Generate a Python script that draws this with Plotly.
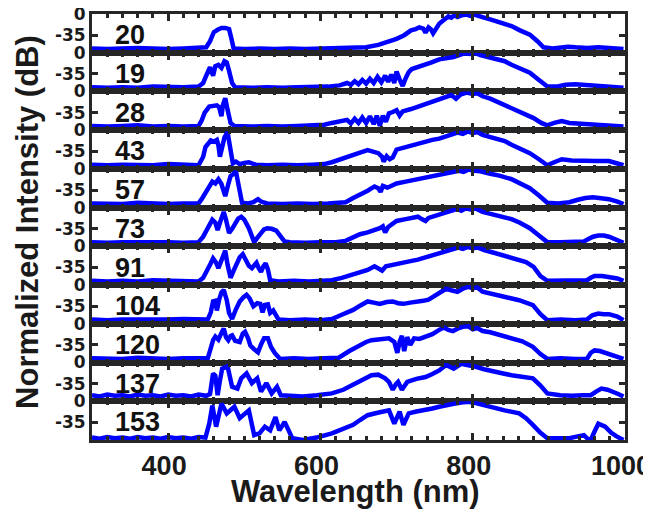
import plotly.graph_objects as go

labels = ["20", "19", "28", "43", "57", "73", "91", "104", "120", "137", "153"]

wl_20 = [300,320,340,360,380,400,420,440,450,455,460,465,470,475,480,483,486,500,520,540,560,580,600,620,640,660,676,690,700,710,719,725,730,735,738,742,745,748,752,756,762,768,772,776,780,786,792,797,802,808,815,823,832,842,851,862,875,885,893,905,915,925,935,950,965,980,998]
db_20 = [-57,-58,-57,-56,-57,-58,-57,-56,-55,-45,-30,-26,-23,-23,-25,-40,-57,-58,-57,-58,-57,-58,-57,-57,-56,-55,-51,-46,-41,-35,-27,-25,-22,-24,-31,-22,-25,-32,-22,-16,-10,-4,-6,-2,-5,-2,-1,-3,-1,-4,-6,-9,-12,-16,-20,-27,-34,-45,-55,-57,-56,-54,-55,-56,-55,-57,-58]

wl_19 = [300,320,340,360,380,400,420,440,446,450,455,459,462,466,470,474,477,480,484,488,510,530,550,570,590,610,625,635,640,645,650,655,660,665,670,675,680,685,689,693,697,700,704,708,712,716,720,728,738,746,756,766,775,784,790,796,802,810,820,832,842,851,862,875,887,898,910,922,935,950,965,980,998]
db_19 = [-57,-58,-57,-58,-56,-57,-57,-56,-50,-38,-24,-38,-22,-20,-25,-14,-16,-30,-50,-57,-58,-57,-58,-57,-57,-56,-54,-50,-53,-47,-52,-45,-51,-43,-50,-40,-49,-38,-48,-36,-50,-31,-44,-55,-42,-32,-27,-23,-20,-16,-11,-9,-7,-3,-1,-2,0,-4,-7,-11,-14,-20,-26,-33,-45,-56,-56,-53,-52,-53,-54,-55,-58]

wl_28 = [300,320,340,360,380,400,420,440,444,448,454,460,464,467,470,472,475,478,482,487,510,530,550,570,590,605,615,625,635,640,645,650,655,660,665,670,674,678,682,686,690,695,700,704,708,719,728,738,747,756,765,772,778,784,792,800,806,813,823,832,842,851,862,870,880,890,898,907,917,927,940,955,970,985,998]
db_28 = [-57,-58,-57,-56,-58,-57,-58,-57,-48,-35,-25,-24,-23,-26,-41,-22,-11,-30,-52,-57,-58,-57,-58,-57,-56,-55,-52,-50,-47,-53,-45,-52,-43,-52,-41,-54,-40,-57,-40,-50,-36,-34,-31,-40,-33,-29,-25,-21,-17,-13,-9,-6,-12,-5,-2,-4,-3,-8,-12,-17,-22,-27,-33,-37,-44,-52,-56,-52,-49,-52,-53,-55,-55,-57,-58]

wl_43 = [300,320,340,360,380,400,420,440,446,449,456,460,464,466,468,471,474,478,481,485,489,494,500,506,515,530,550,570,590,605,615,628,643,652,662,670,676,681,683,687,691,695,700,712,728,738,747,756,765,772,780,787,794,800,806,813,823,832,842,851,862,875,887,898,907,917,930,946,962,979,990,998]
db_43 = [-57,-58,-57,-57,-58,-56,-57,-58,-44,-28,-17,-19,-16,-25,-44,-30,-12,-3,-25,-55,-52,-56,-54,-53,-57,-58,-57,-58,-57,-56,-53,-48,-41,-37,-33,-35,-38,-44,-52,-43,-48,-45,-32,-28,-22,-19,-16,-14,-10,-7,-4,-6,-2,-5,-3,-8,-11,-14,-18,-24,-31,-38,-48,-58,-53,-48,-50,-51,-51,-51,-54,-58]

wl_57 = [300,320,340,360,380,400,420,440,444,449,455,458,462,466,470,475,479,482,486,489,493,497,505,512,518,522,530,550,570,590,610,625,633,643,652,662,671,676,679,682,688,694,700,712,728,738,747,756,765,775,782,788,795,802,810,823,835,851,862,875,887,898,912,927,938,948,958,968,979,990,998]
db_57 = [-57,-57,-58,-56,-57,-58,-57,-57,-50,-40,-27,-21,-24,-17,-25,-45,-25,-12,-8,-4,-30,-56,-57,-55,-50,-54,-57,-58,-57,-58,-57,-56,-55,-48,-43,-36,-29,-32,-38,-28,-31,-27,-24,-21,-17,-14,-11,-9,-6,-4,-3,-5,-1,-3,-4,-8,-11,-17,-23,-32,-44,-56,-57,-55,-51,-48,-47,-48,-50,-54,-58]

wl_73 = [300,320,340,360,380,400,420,440,446,452,455,458,462,465,468,473,476,480,484,488,492,496,500,506,510,513,517,521,526,530,536,542,548,553,560,580,600,620,633,643,652,662,671,678,682,685,689,695,700,712,722,728,733,738,742,756,765,775,780,785,791,797,803,813,823,838,851,862,875,887,898,915,935,946,952,958,965,972,979,988,998]
db_73 = [-57,-58,-57,-57,-56,-57,-58,-57,-48,-35,-30,-20,-25,-37,-25,-7,-20,-42,-35,-26,-18,-15,-20,-34,-48,-57,-50,-43,-36,-34,-35,-38,-48,-56,-57,-58,-57,-57,-55,-50,-44,-41,-38,-34,-31,-41,-32,-26,-22,-19,-16,-15,-19,-22,-17,-11,-7,-4,-2,-5,-1,-3,-1,-7,-10,-14,-19,-25,-34,-46,-57,-57,-57,-56,-52,-48,-46,-46,-48,-52,-58]

wl_91 = [300,320,340,360,380,400,420,440,446,452,456,459,463,466,470,475,478,482,486,490,494,498,502,506,510,513,516,519,522,525,528,531,534,545,565,585,600,615,628,643,652,662,671,676,681,686,692,700,712,728,742,756,766,775,781,787,794,800,807,815,826,842,856,870,880,889,898,915,935,950,955,960,970,979,990,998]
db_91 = [-57,-58,-57,-58,-56,-57,-57,-58,-52,-35,-28,-20,-27,-36,-22,-7,-30,-52,-40,-28,-18,-13,-22,-32,-36,-30,-27,-36,-42,-33,-28,-38,-56,-58,-57,-58,-57,-56,-52,-46,-42,-39,-33,-37,-40,-33,-31,-30,-26,-22,-17,-12,-9,-6,-2,-4,-1,-3,-2,-6,-10,-14,-19,-26,-34,-49,-57,-57,-57,-56,-52,-49,-49,-50,-53,-57]

wl_104 = [300,320,340,360,380,400,420,440,452,456,459,462,464,467,470,473,477,480,484,489,494,499,503,507,512,517,521,524,527,531,534,538,545,560,580,600,615,628,643,652,662,670,678,687,695,702,709,718,728,735,742,749,756,765,773,780,787,794,800,806,813,823,832,845,861,879,889,898,915,935,950,957,965,972,979,990,998]
db_104 = [-57,-58,-57,-57,-58,-57,-56,-57,-57,-45,-27,-26,-42,-24,-12,-8,-25,-46,-56,-40,-27,-20,-16,-22,-35,-30,-31,-45,-33,-32,-46,-42,-57,-58,-57,-58,-56,-49,-41,-34,-27,-29,-31,-28,-27,-30,-31,-29,-28,-26,-24,-18,-12,-6,-9,-11,-6,-3,-5,-4,-11,-14,-16,-19,-25,-33,-48,-58,-57,-58,-57,-50,-47,-48,-48,-52,-58]

wl_120 = [300,320,340,360,380,400,420,440,452,456,459,462,466,470,473,476,479,482,484,488,494,498,501,505,508,513,518,522,526,531,535,540,547,565,585,605,624,638,652,660,667,680,690,697,701,704,707,710,714,718,723,730,738,747,756,762,768,774,780,787,794,800,806,813,823,835,851,865,879,889,898,915,935,950,955,960,967,974,983,998]
db_120 = [-57,-57,-58,-56,-57,-58,-57,-57,-57,-40,-27,-21,-26,-15,-8,-22,-27,-20,-19,-28,-30,-16,-13,-24,-36,-42,-47,-34,-24,-24,-38,-48,-58,-57,-58,-57,-56,-45,-35,-30,-27,-26,-24,-30,-48,-30,-20,-45,-22,-35,-24,-25,-22,-17,-10,-6,-10,-12,-8,-5,-4,-9,-7,-12,-14,-18,-23,-29,-38,-50,-58,-57,-58,-58,-48,-44,-45,-48,-52,-58]

wl_137 = [300,310,320,330,340,350,360,370,380,390,400,410,420,430,440,450,455,459,462,465,468,471,475,478,484,491,496,503,510,517,522,529,536,543,548,560,577,595,615,630,643,655,667,676,685,690,695,699,702,707,714,726,738,747,756,765,775,785,795,804,815,827,840,851,865,879,889,898,915,930,945,955,962,969,977,984,991,998]
db_137 = [-54,-56,-53,-55,-54,-56,-53,-55,-54,-56,-53,-55,-54,-56,-53,-55,-52,-18,-22,-54,-30,-10,-8,-6,-40,-43,-26,-18,-34,-26,-48,-34,-51,-40,-54,-55,-56,-54,-51,-45,-37,-28,-21,-20,-26,-32,-45,-36,-32,-45,-32,-27,-24,-19,-13,-4,-10,-2,-4,-7,-11,-15,-18,-21,-24,-26,-38,-51,-54,-55,-54,-54,-48,-43,-45,-48,-52,-56]

wl_153 = [300,310,320,330,340,350,360,370,380,390,400,410,420,430,440,449,454,458,463,470,477,487,494,506,513,520,527,534,541,546,553,563,577,595,615,630,643,652,662,675,690,697,704,709,716,726,738,747,756,765,775,785,794,804,813,827,842,861,870,879,889,898,912,927,938,946,951,955,960,965,974,982,989,998]
db_153 = [-60,-62,-59,-61,-60,-62,-59,-61,-60,-62,-59,-61,-60,-62,-59,-60,-37,-7,-42,-4,-20,-9,-28,-15,-56,-53,-42,-48,-26,-48,-34,-61,-64,-60,-53,-46,-39,-31,-23,-19,-15,-37,-17,-39,-20,-17,-15,-12,-9,-6,-4,-2,-1,-3,-6,-10,-15,-20,-28,-39,-52,-61,-61,-61,-58,-56,-62,-64,-50,-37,-42,-52,-58,-64]

wls = [wl_20, wl_19, wl_28, wl_43, wl_57, wl_73, wl_91, wl_104, wl_120, wl_137, wl_153]
dbs = [db_20, db_19, db_28, db_43, db_57, db_73, db_91, db_104, db_120, db_137, db_153]

x_ticks = [400, 600, 800, 1000]
y_ticks = [-35, 0]

FRAME = "#262626"
n = len(labels)
fig = go.Figure()
annotations = []
layout_axes = {}
for i in range(n):
    k = i + 1
    xa = "x" if k == 1 else f"x{k}"
    ya = "y" if k == 1 else f"y{k}"
    fig.add_trace(go.Scatter(x=wls[i], y=dbs[i], mode="lines",
                             line=dict(color="#0000FF", width=4.5),
                             xaxis=xa, yaxis=ya, showlegend=False,
                             hoverinfo="skip"))
    top = 1 - i / n
    bot = 1 - (i + 1) / n
    layout_axes["yaxis" if k == 1 else f"yaxis{k}"] = dict(
        domain=[bot, top], range=[-64, 0], anchor=xa, automargin=False,
        tickvals=y_ticks, ticktext=[str(v) for v in y_ticks],
        ticks="inside", ticklen=6, tickwidth=3, tickcolor=FRAME,
        showline=True, linewidth=3, linecolor=FRAME, mirror="allticks",
        showgrid=False, zeroline=False, fixedrange=True,
        ticklabeloverflow="allow",
        tickfont=dict(family="DejaVu Sans", size=17, color="#1a1a1a", weight="bold"),
    )
    xd = dict(
        domain=[0, 1], range=[300, 1000], anchor=ya, automargin=False,
        tickvals=x_ticks, ticks="inside", ticklen=7, tickwidth=3, tickcolor=FRAME,
        minor=dict(dtick=20, tick0=300, ticklen=4, tickwidth=2.5, ticks="inside", tickcolor=FRAME),
        showline=True, linewidth=3, linecolor=FRAME, mirror="allticks",
        showgrid=False, zeroline=False, showticklabels=(k == n),
        ticklabeloverflow="allow", ticklabelshift=-4,
        tickfont=dict(family="Liberation Sans, Arial", size=27, color="#1a1a1a", weight="bold"),
    )
    if k > 1:
        xd["matches"] = "x"
    layout_axes["xaxis" if k == 1 else f"xaxis{k}"] = xd
    annotations.append(dict(x=328, y=-35, xref=xa, yref=ya, text=labels[i],
                            showarrow=False, xanchor="left", yanchor="middle",
                            font=dict(family="Liberation Sans, Arial", size=27, color="#111", weight="bold")))

annotations.append(dict(x=-0.12, y=0.512, xref="paper", yref="paper", text="Normalized Intensity (dB)",
                        textangle=-90, showarrow=False, xanchor="center", yanchor="middle",
                        font=dict(family="Liberation Sans, Arial", size=31, color="#1a1a1a", weight="bold")))
annotations.append(dict(x=0.495, y=-0.12, xref="paper", yref="paper", text="Wavelength (nm)",
                        showarrow=False, xanchor="center", yanchor="middle",
                        font=dict(family="Liberation Sans, Arial", size=31, color="#1a1a1a", weight="bold")))

# the page body adds an 8px margin, so the figure is 8px smaller and its margins shifted
fig.update_layout(
    width=643, height=505,
    margin=dict(l=84, r=26, t=6, b=73, pad=0),
    paper_bgcolor="white", plot_bgcolor="white",
    annotations=annotations,
    **layout_axes,
)
fig.write_html("out.html")
